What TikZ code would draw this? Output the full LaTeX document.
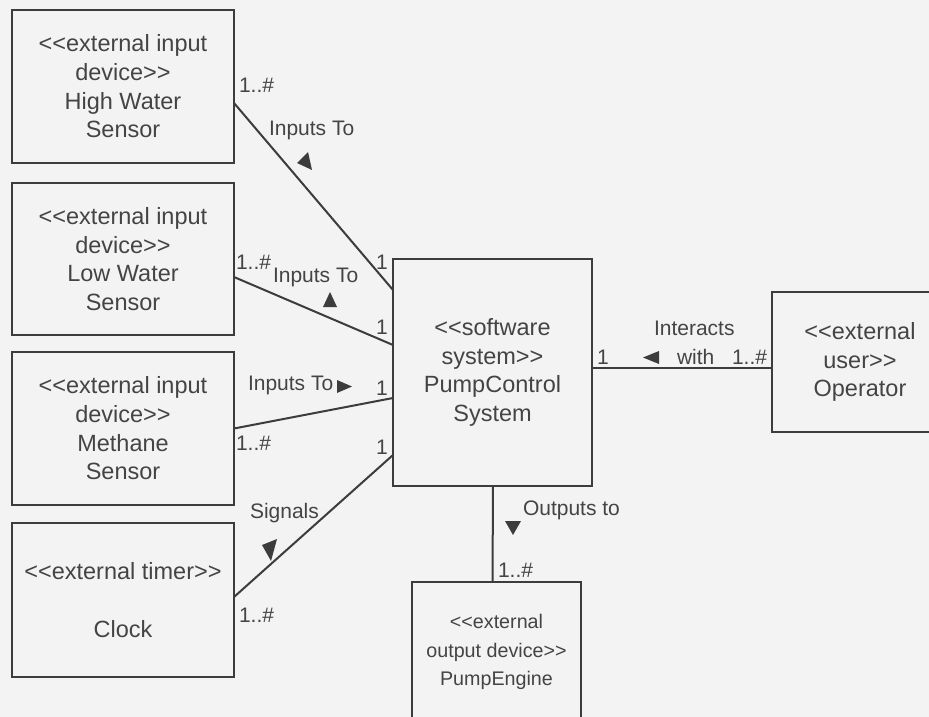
\documentclass[tikz,border=0pt]{standalone}
\usepackage{fontspec}
\setmainfont{Liberation Sans}
\definecolor{ink}{HTML}{3C3C3C}
\definecolor{txt}{HTML}{444444}
\definecolor{paper}{HTML}{F3F3F3}
% stereotype brackets, kept as two separate characters
\newcommand\stl{<\kern0pt<}
\newcommand\stg{>\kern0pt>}

\begin{document}
\begin{tikzpicture}[x=1pt,y=-1pt,
  every node/.style={text=txt, inner sep=0pt, outer sep=0pt},
  block/.style={draw=ink, line width=2pt, align=center,
    font=\fontsize{23.5}{28.7}\selectfont},
  openblock/.style={align=center, font=\fontsize{23.5}{28.7}\selectfont},
  assoc/.style={draw=ink, line width=2pt},
  lbl/.style={font=\fontsize{21}{24}\selectfont, anchor=west},
  mult/.style={font=\fontsize{21}{24}\selectfont},
  dirmark/.style={fill=ink}
]
\fill[paper] (0,0) rectangle (929,717);
\useasboundingbox (0,0) rectangle (929,717);

% external devices on the left
\node[block, minimum width=222pt, minimum height=153pt] (hws) at (123,86.5)
  {\stl external input\\device\stg\\High Water\\Sensor};
\node[block, minimum width=222pt, minimum height=152pt] (lws) at (123,259)
  {\stl external input\\device\stg\\Low Water\\Sensor};
\node[block, minimum width=222pt, minimum height=153pt] (meth) at (123,428.5)
  {\stl external input\\device\stg\\Methane\\Sensor};
\node[block, minimum width=222pt, minimum height=154pt] (clock) at (123,600)
  {\stl external timer\stg\\[28.7pt]Clock};

% the system
\node[block, minimum width=199pt, minimum height=227pt] (pcs) at (492.5,372.5)
  {\stl software\\system\stg\\PumpControl\\System};

% operator (box runs past the right edge)
\node[openblock, minimum width=176pt, minimum height=140pt] (op) at (860,362)
  {\stl external\\user\stg\\Operator};
\coordinate (rim) at (929,362);
\draw[assoc] (op.north west -| rim) -- (op.north west) -- (op.south west) -- (op.south west -| rim);

% pump engine (box runs past the bottom edge)
\node[openblock, font=\fontsize{19.7}{28.5}\selectfont, minimum width=169pt, minimum height=140pt]
  (pe) at (496.5,652) {\stl external\\output device\stg\\PumpEngine};
\coordinate (floor) at (496.5,717);
\draw[assoc] (pe.south west |- floor) -- (pe.north west) -- (pe.north east) -- (pe.south east |- floor);

% associations
\draw[assoc] ([yshift=-16.5pt]hws.east) -- ([yshift=82.5pt]pcs.west);
\draw[assoc] ([yshift=-18pt]lws.east) -- ([yshift=27.5pt]pcs.west);
\draw[assoc] (meth.east) -- ([yshift=-25.5pt]pcs.west);
\draw[assoc] ([yshift=3pt]clock.east) -- ([yshift=-82.5pt]pcs.west);
\draw[assoc] ([yshift=4.5pt]pcs.east) -- ([yshift=-6pt]op.west);
\draw[assoc] ([xshift=0.5pt]pcs.south) -- (pcs.south |- pe.north);

% association names and multiplicities
\node[mult, anchor=west] (m1a) at (239,85) {1..\#};
\node[lbl] (n1) at (269,130) {Inputs To};
\node[mult] (m1b) at (382,262) {1};
\fill[dirmark] (308,152) -- (297,163) -- (312,170) -- cycle;

\node[mult, anchor=west] (m2a) at (236,262) {1..\#};
\node[lbl] (n2) at (273,277) {Inputs To};
\node[mult] (m2b) at (382,327) {1};
\fill[dirmark] (330,292) -- (323,307) -- (337,307) -- cycle;

\node[lbl] (n3) at (248,385) {Inputs To};
\node[mult] (m3b) at (382,388) {1};
\node[mult, anchor=west] (m3a) at (236,443) {1..\#};
\fill[dirmark] (337,380) -- (337,393) -- (352,386.5) -- cycle;

\node[mult] (m4b) at (382,447) {1};
\node[lbl] (n4) at (250,513) {Signals};
\node[mult, anchor=west] (m4a) at (239,615) {1..\#};
\fill[dirmark] (262,545) -- (277,539) -- (271,561) -- cycle;

\node[mult] (m5a) at (603,357) {1};
\node[lbl] (n5a) at (654,328) {Interacts};
\node[lbl] (n5b) at (677,357) {with};
\node[mult, anchor=west] (m5b) at (732,357) {1..\#};
\fill[dirmark] (643,357.5) -- (659,351) -- (659,364) -- cycle;

\node[lbl] (n6) at (523,510) {Outputs to};
\node[mult, anchor=west] (m6) at (498,570) {1..\#};
\fill[dirmark] (505,521) -- (521,521) -- (513,535) -- cycle;
\end{tikzpicture}
\end{document}
